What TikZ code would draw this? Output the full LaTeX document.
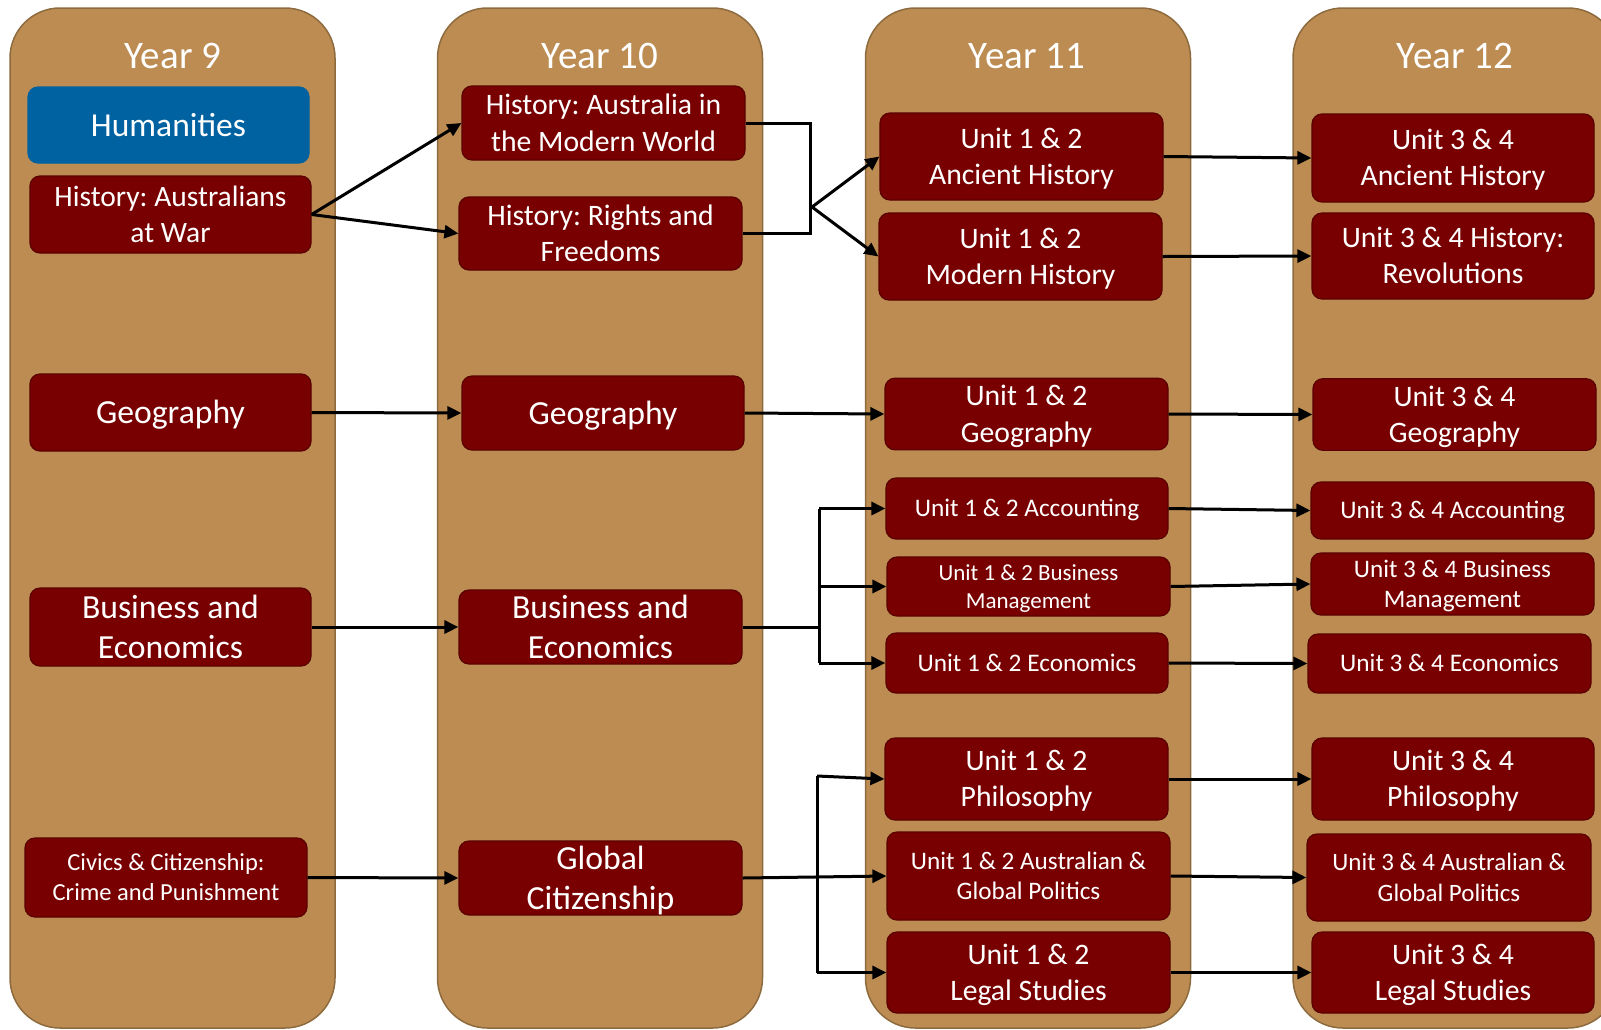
\documentclass[tikz,border=0pt]{standalone}
\usepackage{fontspec}
\setmainfont{Carlito}
\usetikzlibrary{arrows.meta}
\definecolor{coltan}{HTML}{BC8C52}
\definecolor{coledge}{HTML}{8E6B3E}
\definecolor{boxred}{HTML}{780000}
\definecolor{boxedge}{HTML}{5A0000}
\definecolor{humblue}{HTML}{0062A0}
\frenchspacing
\newcommand\fsz[2]{\fontsize{#1pt}{#2pt}\selectfont}
\newcommand\tstrut{\rule[-0.26em]{0pt}{1.19em}}
\newcommand\one[1]{\tstrut#1\tstrut}
\newcommand\two[2]{\tstrut#1\\#2\tstrut}
\begin{document}
\begin{tikzpicture}[x=1pt,y=-1pt,
  col/.style={fill=coltan, draw=coledge, line width=1.5pt, rounded corners=50pt, minimum width=325pt, minimum height=1020pt, inner sep=0pt},
  yr/.style={text=white, font=\fsz{39}{47}, anchor=base, inner sep=0pt},
  box/.style={draw=boxedge, fill=boxred, line width=1.2pt, rounded corners=10pt, text=white, align=center, inner sep=0pt},
  ln/.style={line width=3pt},
  arr/.style={ln, -{Triangle[length=14pt,width=13pt]}}]
\useasboundingbox (0,0) rectangle (1601,1029);
\clip (0,0) rectangle (1601,1029);
% columns
\node[col] (c9) at (172.5,518) {};
\node[col] (c10) at (600,518) {};
\node[col] (c11) at (1028,518) {};
\node[col] (c12) at (1455.5,518) {};
\node[yr] (t9) at (173,68) {Year 9};
\node[yr] (t10) at (600,68) {Year 10};
\node[yr] (t11) at (1027,68) {Year 11};
\node[yr] (t12) at (1455,68) {Year 12};
% Year 9
\node[box, fill=humblue, draw=humblue, minimum width=281pt, minimum height=76pt, font=\fsz{33.5}{40}] (hum) at (168.5,125) {\one{Humanities}};
\node[box, minimum width=281pt, minimum height=77pt, font=\fsz{29.5}{35}] (aw) at (170.5,214.5) {\two{History: Australians}{at War}};
\node[box, minimum width=281pt, minimum height=77pt, font=\fsz{33.7}{40}] (geo9) at (170.5,412.5) {\one{Geography}};
\node[box, minimum width=281pt, minimum height=78pt, font=\fsz{33.7}{40}] (bus9) at (170.5,627) {Business and\\Economics};
\node[box, minimum width=282pt, minimum height=79pt, font=\fsz{24.5}{29.5}] (civ) at (166,877.5) {\two{Civics \& Citizenship:}{Crime and Punishment}};
% Year 10
\node[box, minimum width=283pt, minimum height=74pt, font=\fsz{29.7}{34}] (amw) at (603.5,123) {\two{History: Australia in}{the Modern World}};
\node[box, minimum width=283pt, minimum height=73pt, font=\fsz{29.7}{35}] (rf) at (600.5,233.5) {\two{History: Rights and}{Freedoms}};
\node[box, minimum width=282pt, minimum height=74pt, font=\fsz{33.7}{40}] (geo10) at (603,413) {\one{Geography}};
\node[box, minimum width=283pt, minimum height=74pt, font=\fsz{33.7}{40}] (bus10) at (600.5,627) {Business and\\Economics};
\node[box, minimum width=283pt, minimum height=74pt, font=\fsz{33.7}{40}] (glob) at (600.5,878) {Global\\\smash{Citizenship}};
% Year 11
\node[box, minimum width=283pt, minimum height=87pt, font=\fsz{29.7}{36}] (anc11) at (1021.5,156.5) {\two{Unit 1 \& 2}{Ancient History}};
\node[box, minimum width=283pt, minimum height=87pt, font=\fsz{29.7}{36}] (mod11) at (1020.5,256.5) {\two{Unit 1 \& 2}{Modern History}};
\node[box, minimum width=283pt, minimum height=71pt, font=\fsz{29.7}{35}] (geo11) at (1026.5,414) {\two{Unit 1 \& 2}{Geography}};
\node[box, minimum width=282pt, minimum height=61pt, font=\fsz{25.3}{30}] (acc11) at (1027,508.5) {\one{Unit 1 \& 2 Accounting}};
\node[box, minimum width=283pt, minimum height=59pt, font=\fsz{23}{27}] (bm11) at (1028.5,586.5) {\two{Unit 1 \& 2 Business}{Management}};
\node[box, minimum width=282pt, minimum height=60pt, font=\fsz{25.3}{30}] (eco11) at (1027,663) {\one{Unit 1 \& 2 Economics}};
\node[box, minimum width=283pt, minimum height=82pt, font=\fsz{29.7}{36}] (phil11) at (1026.5,779) {\two{Unit 1 \& 2}{Philosophy}};
\node[box, minimum width=283pt, minimum height=88pt, font=\fsz{25.2}{30}] (pol11) at (1028.5,876) {\two{Unit 1 \& 2 Australian \&}{Global Politics}};
\node[box, minimum width=283pt, minimum height=81pt, font=\fsz{29.7}{36}] (leg11) at (1028.5,972.5) {\two{Unit 1 \& 2}{Legal Studies}};
% Year 12
\node[box, minimum width=282pt, minimum height=88pt, font=\fsz{29.7}{36}] (anc12) at (1453,158) {\two{Unit 3 \& 4}{Ancient History}};
\node[box, minimum width=282pt, minimum height=86pt, font=\fsz{29.7}{36}] (rev12) at (1453,256) {\two{Unit 3 \& 4 History:}{Revolutions}};
\node[box, minimum width=283pt, minimum height=71pt, font=\fsz{29.7}{35}] (geo12) at (1454.5,414.5) {\two{Unit 3 \& 4}{Geography}};
\node[box, minimum width=283pt, minimum height=57pt, font=\fsz{25.3}{30}] (acc12) at (1452.5,510.5) {\one{Unit 3 \& 4 Accounting}};
\node[box, minimum width=283pt, minimum height=62pt, font=\fsz{25.2}{30}] (bm12) at (1452.5,584) {\two{Unit 3 \& 4 Business}{Management}};
\node[box, minimum width=283pt, minimum height=59pt, font=\fsz{25.3}{30}] (eco12) at (1449.5,663.5) {\one{Unit 3 \& 4 Economics}};
\node[box, minimum width=282pt, minimum height=82pt, font=\fsz{29.7}{36}] (phil12) at (1453,779) {\two{Unit 3 \& 4}{Philosophy}};
\node[box, minimum width=284pt, minimum height=87pt, font=\fsz{25}{31}] (pol12) at (1449,877.5) {\two{Unit 3 \& 4 Australian \&}{Global Politics}};
\node[box, minimum width=282pt, minimum height=81pt, font=\fsz{29.7}{36}] (leg12) at (1453,972.5) {\two{Unit 3 \& 4}{Legal Studies}};
% junction coordinates
\coordinate (hj) at (812,207);
\coordinate (hx) at (810,0);
\coordinate (bj) at (819,0);
\coordinate (gj) at (817,0);
\coordinate (gtop) at (817,776);
% history connectors
\draw[arr] (aw.east) -- (amw.west);
\draw[arr] (aw.east) -- (rf.west);
\draw[ln] (amw.east) -- (hx |- amw.east) -- (hx |- rf.east) -- (rf.east);
\draw[arr] (hj) -- (anc11.west);
\draw[arr] (hj) -- (mod11.west);
\draw[arr] (anc11.east) -- (anc12.west);
\draw[arr] (mod11.east) -- (rev12.west);
% geography
\draw[arr] (geo9.east) -- (geo10.west);
\draw[arr] (geo10.east) -- (geo11.west);
\draw[arr] (geo11.east) -- (geo12.west);
% business
\draw[arr] (bus9.east) -- (bus10.west);
\draw[ln] (bus10.east) -- (bj |- bus10.east);
\draw[ln] (bj |- acc11.west) -- (bj |- eco11.west);
\draw[arr] (bj |- acc11.west) -- (acc11.west);
\draw[arr] (bj |- bm11.west) -- (bm11.west);
\draw[arr] (bj |- eco11.west) -- (eco11.west);
\draw[arr] (acc11.east) -- (acc12.west);
\draw[arr] (bm11.east) -- (bm12.west);
\draw[arr] (eco11.east) -- (eco12.west);
% civics
\draw[arr] (civ.east) -- (glob.west);
\draw[arr] (glob.east) -- (pol11.west);
\draw[ln] (gtop) -- (gj |- leg11.west);
\draw[arr] (gtop) -- (phil11.west);
\draw[arr] (gj |- leg11.west) -- (leg11.west);
\draw[arr] (phil11.east) -- (phil12.west);
\draw[arr] (pol11.east) -- (pol12.west);
\draw[arr] (leg11.east) -- (leg12.west);
\end{tikzpicture}
\end{document}
